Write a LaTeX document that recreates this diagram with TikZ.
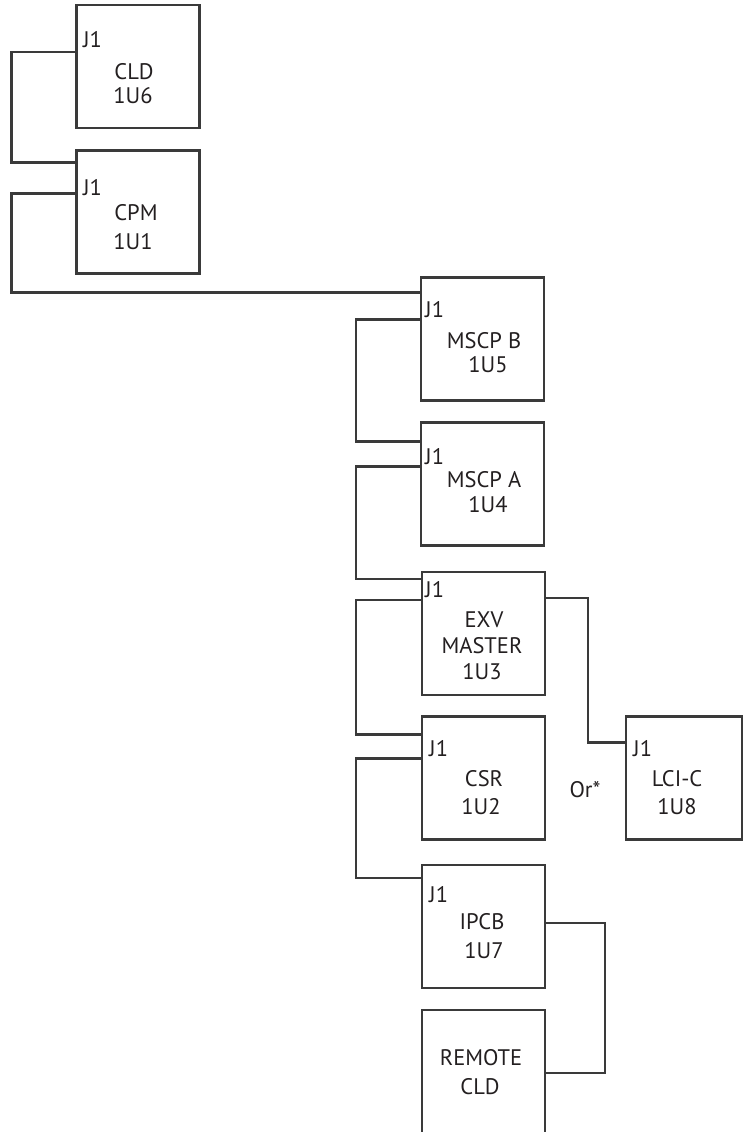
\documentclass[tikz,border=0pt]{standalone}
\usepackage{fontspec}
\setmainfont{PT Sans}
\definecolor{ln}{HTML}{3A3A3A}
\definecolor{tx}{HTML}{231F20}
\begin{document}
\begin{tikzpicture}[x=1pt,y=-1pt,
  box/.style={draw=ln,line width=2.2pt,inner sep=0pt,minimum width=123pt,minimum height=123pt},
  wire/.style={draw=ln,line width=2.2pt,line join=miter},
  lbl/.style={text=tx,inner sep=0pt,font=\fontsize{22.5}{27}\selectfont,text height=15.5pt,text depth=0pt},
  jl/.style={lbl,anchor=west}]
\path[use as bounding box] (0,0) rectangle (743,1132);
\clip (0,0) rectangle (743,1132);
% boxes
\node[box] (cld) at (138,66.5) {};
\node[box] (cpm) at (138,212) {};
\node[box] (mscpb) at (482.5,339) {};
\node[box] (mscpa) at (482.5,484) {};
\node[box] (exv) at (483.5,633.5) {};
\node[box] (csr) at (483.5,778) {};
\node[box,minimum width=116pt] (lci) at (684,778) {};
\node[box] (ipcb) at (483.5,926.5) {};
\node[box,minimum height=140pt] (rem) at (483.5,1080) {};
% labels
\node[jl] (cldj) at (83,40) {J1};
\node[lbl] (cldn) at (134,72) {CLD};
\node[lbl] (cldi) at (133,96) {1U6};
\node[jl] (cpmj) at (83,188) {J1};
\node[lbl] (cpmn) at (136,213) {CPM};
\node[lbl] (cpmi) at (133,242) {1U1};
\node[jl] (mbj) at (425,310) {J1};
\node[lbl] (mbn) at (484,341) {MSCP B};
\node[lbl] (mbi) at (488,365) {1U5};
\node[jl] (maj) at (425,457) {J1};
\node[lbl] (man) at (484,480) {MSCP A};
\node[lbl] (mai) at (488,505) {1U4};
\node[jl] (exj) at (425,590) {J1};
\node[lbl] (exn) at (484,620) {EXV};
\node[lbl] (exm) at (482,646) {MASTER};
\node[lbl] (exi) at (482,672) {1U3};
\node[jl] (csj) at (429,749) {J1};
\node[lbl] (csn) at (484,779) {CSR};
\node[lbl] (csi) at (481,807) {1U2};
\node[jl] (lcj) at (633,749) {J1};
\node[lbl] (lcn) at (677,779) {LCI-C};
\node[lbl] (lci1) at (677,807) {1U8};
\node[lbl] (or) at (585,790) {Or*};
\node[jl] (ipj) at (429,895) {J1};
\node[lbl] (ipn) at (482,922) {IPCB};
\node[lbl] (ipi) at (484,951) {1U7};
\node[lbl] (remn) at (481,1058) {REMOTE};
\node[lbl] (remc) at (480,1087) {CLD};
% connectors
\draw[wire] ([yshift=-48pt]cld.north west) -- ++(-64,0) |- ([yshift=-13pt]cpm.north west);
\draw[wire] ([yshift=-44pt]cpm.north west) -- ++(-64,0) |- ([yshift=-16pt]mscpb.north west);
\draw[wire] ([yshift=-43pt]mscpb.north west) -- ++(-64,0) |- ([yshift=-20pt]mscpa.north west);
\draw[wire] ([yshift=-45pt]mscpa.north west) -- ++(-64,0) |- ([yshift=-8pt]exv.north west);
\draw[wire] ([yshift=-29pt]exv.north west) -- ++(-65,0) |- ([yshift=-19pt]csr.north west);
\draw[wire] ([yshift=-43pt]csr.north west) -- ++(-65,0) |- ([yshift=-14pt]ipcb.north west);
\draw[wire] ([yshift=-27pt]exv.north east) -- ++(42,0) |- ([yshift=-27pt]lci.north west);
\draw[wire] ([yshift=-59pt]ipcb.north east) -- ++(59,0) |- ([yshift=-64pt]rem.north east);
\end{tikzpicture}
\end{document}
